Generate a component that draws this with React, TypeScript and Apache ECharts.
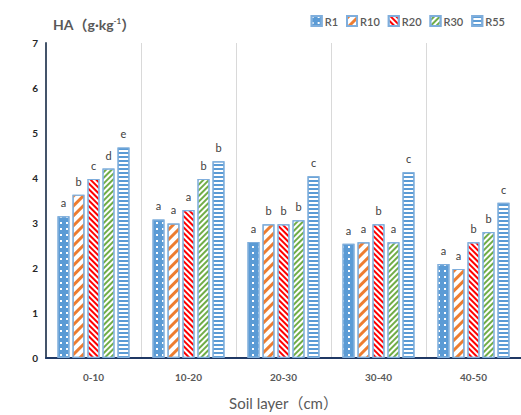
import React, { useEffect, useRef } from "react";
import * as echarts from "echarts";

const categories = ["0-10", "10-20", "20-30", "30-40", "40-50"];
const seriesNames = ["R1", "R10", "R20", "R30", "R55"];
const r1 = [3.15, 3.08, 2.58, 2.54, 2.09];
const r10 = [3.63, 2.99, 2.97, 2.57, 1.98];
const r20 = [3.98, 3.29, 2.97, 2.97, 2.57];
const r30 = [4.21, 3.98, 3.06, 2.57, 2.8];
const r55 = [4.68, 4.37, 4.04, 4.13, 3.45];
const letR1 = ["a", "a", "a", "a", "a"];
const letR10 = ["b", "a", "b", "a", "a"];
const letR20 = ["c", "a", "b", "b", "b"];
const letR30 = ["d", "b", "b", "a", "b"];
const letR55 = ["e", "b", "c", "c", "c"];
const yTicks = [0, 7, 1];

const FONT = "Lato, 'Noto Sans CJK SC', sans-serif";

export default function App() {
  const ref = useRef<HTMLDivElement>(null);
  useEffect(() => {
    if (!ref.current) return;
    const chart = echarts.init(ref.current, undefined, { renderer: "svg" });
    const values = [r1, r10, r20, r30, r55];
    const letters = [letR1, letR10, letR20, letR30, letR55];
    const styles: any[] = [
      {
        color: "#5B9BD5",
        decal: { symbol: "rect", symbolSize: 1, dashArrayX: [1.5, 4], dashArrayY: [1.5, 4], color: "#ffffff" },
      },
      {
        color: "#ffffff",
        decal: { symbol: "rect", symbolSize: 1, dashArrayX: [1, 0], dashArrayY: [2.5, 3.5], rotation: -Math.PI / 4, color: "#ED7D31" },
      },
      {
        color: "#FF0000",
        decal: { symbol: "rect", symbolSize: 1, dashArrayX: [1, 0], dashArrayY: [1.5, 1.8], rotation: Math.PI / 4, color: "#ffffff" },
      },
      {
        color: "#70AD47",
        decal: { symbol: "rect", symbolSize: 1, dashArrayX: [1, 0], dashArrayY: [1.5, 1.8], rotation: -Math.PI / 4, color: "#ffffff" },
      },
      {
        color: "#ffffff",
        decal: { symbol: "rect", symbolSize: 1, dashArrayX: [1, 0], dashArrayY: [1.5, 1.5], rotation: 0, color: "#5B9BD5" },
      },
    ];
    const series = seriesNames.map((name, i) => ({
      name,
      type: "bar",
      data: values[i],
      barWidth: 12,
      barGap: "25%",
      itemStyle: {
        color: styles[i].color,
        decal: styles[i].decal,
        borderColor: "#7FAEDC",
        borderWidth: 1.2,
      },
      label: {
        show: true,
        position: "top",
        distance: 8,
        color: "#404040",
        fontSize: 11,
        fontFamily: FONT,
        formatter: (p: any) => letters[i][p.dataIndex],
      },
    }));
    chart.setOption({
      animation: false,
      aria: { enabled: false },
      grid: { left: 46, top: 43, width: 485, height: 319 },
      title: {
        text: "{a|HA（g·kg}{s|-1}{a|）}",
        left: 48,
        top: 12,
        textStyle: {
          rich: {
            a: { fontSize: 14, fontWeight: "bold", color: "#595959", fontFamily: FONT },
            s: { fontSize: 8, fontWeight: "bold", color: "#595959", fontFamily: FONT, verticalAlign: "top", padding: [0, 0, 6, 0] },
          },
        },
      },
      legend: {
        right: 11,
        top: 10,
        itemWidth: 10,
        itemHeight: 10,
        itemGap: 8,
        icon: "rect",
        textStyle: { color: "#595959", fontSize: 11, fontWeight: 600, fontFamily: FONT, padding: [0, 0, 0, -2] },
      },
      xAxis: {
        type: "category",
        data: categories,
        name: "Soil layer（cm）",
        nameLocation: "middle",
        nameGap: 37,
        nameTextStyle: { fontSize: 15, color: "#595959", fontFamily: FONT },
        axisLine: { lineStyle: { color: "#1F3864", width: 2 } },
        axisTick: { show: false },
        axisLabel: { color: "#595959", fontSize: 10, fontWeight: "bold", fontFamily: FONT, margin: 14 },
        splitLine: { show: true, lineStyle: { color: "#D9D9D9", width: 1 } },
      },
      yAxis: {
        type: "value",
        min: yTicks[0],
        max: yTicks[1],
        interval: yTicks[2],
        axisLine: { show: true, lineStyle: { color: "#44546A", width: 2 } },
        axisTick: { show: false },
        axisLabel: { color: "#262626", fontSize: 10, fontWeight: "bold", fontFamily: FONT, margin: 8 },
        splitLine: { show: false },
      },
      series,
    });
    return () => chart.dispose();
  }, []);
  return <div ref={ref} style={{ width: 521, height: 415, position: "absolute", left: 0, top: 0 }} />;
}
